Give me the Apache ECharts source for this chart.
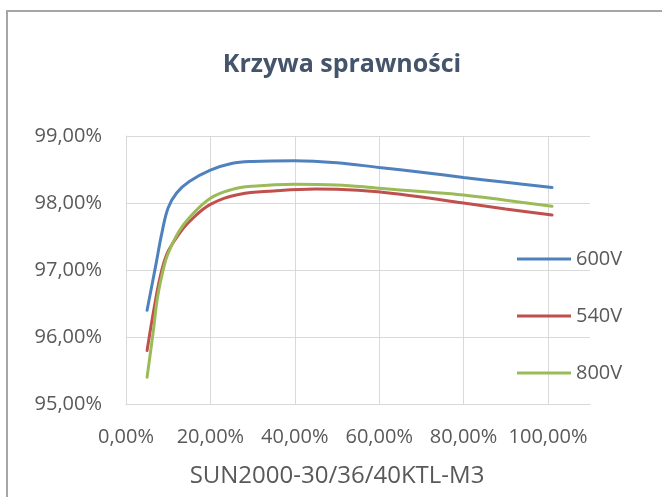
<!DOCTYPE html>
<html>
<head>
<meta charset="utf-8">
<script src="https://cdn.jsdelivr.net/npm/echarts@6/dist/echarts.min.js"></script>
<style>html,body{margin:0;padding:0;background:#fff;}#c{width:662px;height:497px;}</style>
</head>
<body>
<div id="c"></div>
<script>
// Load (% of rated power)
var load600 = [5, 7, 8.5, 10, 12, 15, 20, 25, 30, 40, 50, 60, 70, 80, 90, 101];
var eff600  = [96.40, 97.05, 97.55, 97.93, 98.15, 98.32, 98.49, 98.59, 98.62, 98.63, 98.60, 98.53, 98.46, 98.38, 98.31, 98.23];
var load540 = [5, 7, 8.5, 10, 12.5, 15, 20, 27, 35, 45, 55, 65, 80, 90, 101];
var eff540  = [95.80, 96.55, 97.00, 97.28, 97.53, 97.72, 97.98, 98.13, 98.18, 98.21, 98.19, 98.13, 98.00, 97.91, 97.82];
var load800 = [5, 6.5, 7.5, 9, 10, 12.5, 15, 20, 25, 30, 40, 50, 60, 70, 80, 90, 101];
var eff800  = [95.40, 96.10, 96.60, 97.05, 97.25, 97.57, 97.78, 98.07, 98.20, 98.25, 98.28, 98.27, 98.22, 98.17, 98.12, 98.04, 97.95];
var seriesNames = ['600V', '540V', '800V'];
var titleText = 'Krzywa sprawności';
var xAxisTitle = 'SUN2000-30/36/40KTL-M3';
var yMin = 95, yMax = 99, yStep = 1;
var xMin = 0, xMax = 100, xStep = 20, xPlotMax = 110;

function pct(v){ return v.toFixed(2).replace('.', ',') + '%'; }
function pairs(xs, ys){ return xs.map(function(x,i){ return [x, ys[i]]; }); }

var FONT = 'Open Sans';
var LABEL = '#595959';
var GRIDC = '#d9d9d9';
var colors = ['#4F81BD', '#C0504D', '#9BBB59'];

var chart = echarts.init(document.getElementById('c'), null, {renderer: 'canvas'});
chart.setOption({
  animation: false,
  backgroundColor: '#fff',
  color: colors,
  textStyle: {fontFamily: FONT},
  graphic: [
    {type: 'rect', shape: {x: 7, y: 11, width: 720, height: 600}, style: {fill: 'none', stroke: '#a6a6a6', lineWidth: 2}, silent: true, z: 0},
    {type: 'text', x: 342, y: 65, style: {text: titleText, fontFamily: FONT, fontSize: 25, fontWeight: 'bold', fill: '#44546A', align: 'center', verticalAlign: 'middle'}, z: 10}
  ],
  grid: [
    {left: 126, right: 72, top: 136, bottom: 93, containLabel: false},
    {left: 126, right: 114, top: 136, bottom: 93, containLabel: false}
  ],
  legend: {
    orient: 'vertical', left: 512, top: 244, itemWidth: 54, itemHeight: 3, itemGap: 37,
    icon: 'rect', data: seriesNames,
    textStyle: {fontFamily: FONT, fontSize: 20, color: LABEL}
  },
  xAxis: [
    {type: 'value', gridIndex: 0, min: xMin, max: xPlotMax,
     axisLine: {show: true, lineStyle: {color: GRIDC, width: 1}}, axisTick: {show: false},
     axisLabel: {show: false}, splitLine: {show: false}},
    {type: 'value', gridIndex: 1, min: xMin, max: xMax, interval: xStep,
     axisLine: {show: false}, axisTick: {show: false},
     axisLabel: {show: true, margin: 23, color: LABEL, fontFamily: FONT, fontSize: 20, formatter: pct},
     splitLine: {show: true, lineStyle: {color: GRIDC, width: 1}},
     name: xAxisTitle, nameLocation: 'middle', nameGap: 60,
     nameTextStyle: {color: LABEL, fontFamily: FONT, fontSize: 24}}
  ],
  yAxis: [
    {type: 'value', gridIndex: 0, min: yMin, max: yMax, interval: yStep,
     axisLine: {show: true, lineStyle: {color: GRIDC, width: 1}}, axisTick: {show: false},
     axisLabel: {margin: 24, color: LABEL, fontFamily: FONT, fontSize: 20, formatter: pct},
     splitLine: {show: true, lineStyle: {color: GRIDC, width: 1}}},
    {type: 'value', gridIndex: 1, min: yMin, max: yMax, interval: yStep, show: false,
     splitLine: {show: false}}
  ],
  series: [
    {name: seriesNames[0], type: 'line', xAxisIndex: 0, yAxisIndex: 0, data: pairs(load600, eff600), smooth: 0.4, symbol: 'none', lineStyle: {width: 3, cap: 'round'}, z: 5},
    {name: seriesNames[1], type: 'line', xAxisIndex: 0, yAxisIndex: 0, data: pairs(load540, eff540), smooth: 0.4, symbol: 'none', lineStyle: {width: 3, cap: 'round'}, z: 5},
    {name: seriesNames[2], type: 'line', xAxisIndex: 0, yAxisIndex: 0, data: pairs(load800, eff800), smooth: 0.4, symbol: 'none', lineStyle: {width: 3, cap: 'round'}, z: 6}
  ]
});
</script>
</body>
</html>
